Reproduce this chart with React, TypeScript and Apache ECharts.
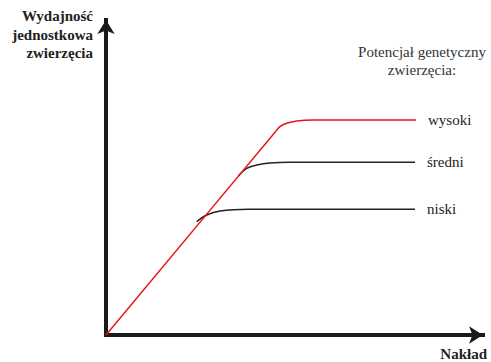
import React, { useEffect, useRef } from "react";
import * as echarts from "echarts";

// Points (x: input 0..100, y: yield 0..100)
const seriesNames = ["wysoki", "średni", "niski"];
const highX = [0, 44.83, 46.15, 47.93, 50.58, 54.99, 82.23];
const highY = [0, 64.35, 66.13, 67.2, 67.94, 68.25, 68.25];
const midX = [35.09, 37.32, 39.97, 43.5, 48.81, 81.96];
const midY = [50.48, 52.92, 53.97, 54.6, 54.83, 54.83];
const lowX = [24.06, 26.71, 30.24, 37.75, 81.96];
const lowY = [35.97, 38.1, 39.37, 39.9, 39.9];
const seriesColors = ["#e8141c", "#222222", "#222222"];

const yAxisTitle = "Wydajność\njednostkowa\nzwierzęcia";
const xAxisTitle = "Nakład";
const legendTitle = "Potencjał genetyczny\nzwierzęcia:";

const FAM = "Liberation Serif";

function zip(xs: number[], ys: number[]) {
  return xs.map((x, i) => [x, ys[i]]);
}

export default function App() {
  const ref = useRef<HTMLDivElement>(null);
  useEffect(() => {
    if (!ref.current) return;
    const chart = echarts.init(ref.current, undefined, { renderer: "svg" });
    const data = [zip(highX, highY), zip(midX, midY), zip(lowX, lowY)];
    const axisLine = {
      show: true,
      symbol: ["none", "arrow"],
      symbolSize: [13, 14],
      lineStyle: { color: "#1a1a1a", width: 4, cap: "square" },
    };
    chart.setOption({
      animation: false,
      backgroundColor: "#ffffff",
      grid: { left: 106, right: 8, top: 20, bottom: 27, outerBoundsMode: "none" },
      title: [
        {
          text: yAxisTitle,
          left: 93,
          top: 7,
          padding: 0,
          textAlign: "right",
          textStyle: { fontFamily: FAM, fontWeight: "bold", fontSize: 15, lineHeight: 18.5, color: "#222" },
        },
        {
          text: legendTitle,
          left: 422,
          top: 43,
          padding: 0,
          textAlign: "center",
          textStyle: { fontFamily: FAM, fontWeight: "normal", fontSize: 15, lineHeight: 18, color: "#333" },
        },
        {
          text: xAxisTitle,
          left: 487,
          top: 346,
          padding: 0,
          textAlign: "right",
          textStyle: { fontFamily: FAM, fontWeight: "bold", fontSize: 15, color: "#222" },
        },
      ],
      xAxis: {
        type: "value",
        min: 0,
        max: 100,
        axisLine,
        axisTick: { show: false },
        axisLabel: { show: false },
        splitLine: { show: false },
      },
      yAxis: {
        type: "value",
        min: 0,
        max: 100,
        axisLine,
        axisTick: { show: false },
        axisLabel: { show: false },
        splitLine: { show: false },
      },
      series: seriesNames.map((name, i) => ({
        name,
        type: "line",
        data: data[i],
        symbol: "none",
        smooth: 0.35,
        lineStyle: { color: seriesColors[i], width: 1.5 },
        z: i === 0 ? 3 : 2,
        endLabel: {
          show: true,
          formatter: "{a}",
          distance: 12,
          color: "#222",
          fontFamily: FAM,
          fontSize: 15,
        },
      })),
    });
    return () => chart.dispose();
  }, []);
  return <div ref={ref} style={{ width: 491, height: 362, position: "absolute", left: 0, top: 0 }} />;
}
